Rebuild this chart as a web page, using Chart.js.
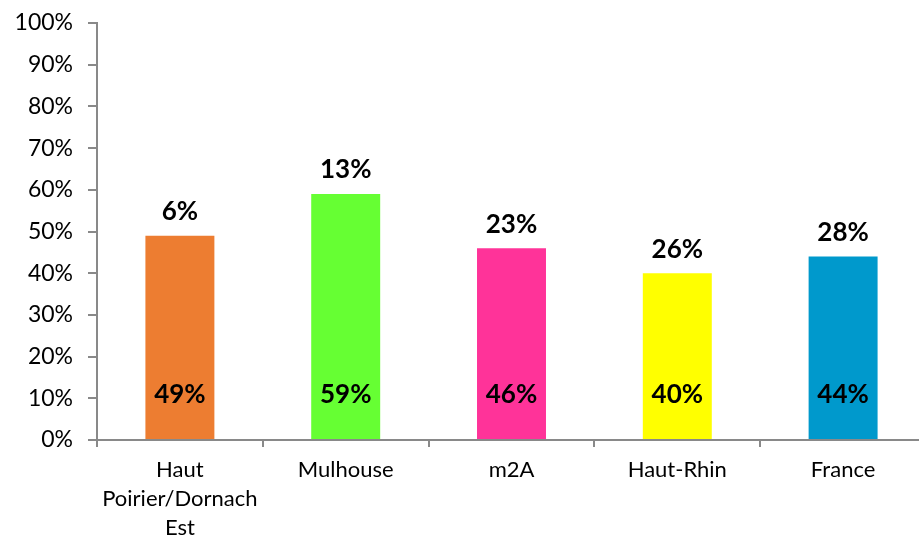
<!DOCTYPE html>
<html>
<head>
<meta charset="utf-8">
<script src="https://cdn.jsdelivr.net/npm/chart.js@4.4.1/dist/chart.umd.min.js"></script>
<style>
  html, body { margin: 0; padding: 0; background: #fff; overflow: hidden; }
  #wrap { width: 926px; height: 537px; }
</style>
</head>
<body>
<div id="wrap"><canvas id="chart"></canvas></div>
<script>
// catégories et valeurs (en %)
const categories = [['Haut', 'Poirier/Dornach', 'Est'], 'Mulhouse', 'm2A', 'Haut-Rhin', 'France'];
const barShares = [49, 59, 46, 40, 44];
const topShares = [6, 13, 23, 26, 28];
const barColors = ['#ED7D31', '#66FF33', '#FF3399', '#FFFF00', '#0099CC'];

const axisGrey = '#898989';

// étiquettes au-dessus et dans les barres
const barLabels = {
  id: 'barLabels',
  afterDatasetsDraw(chart) {
    const ctx = chart.ctx;
    const yScale = chart.scales.y;
    const meta = chart.getDatasetMeta(0);
    ctx.save();
    ctx.font = 'bold 26px Lato';
    ctx.fillStyle = '#000';
    ctx.textAlign = 'center';
    ctx.textBaseline = 'middle';
    meta.data.forEach((bar, i) => {
      ctx.fillText(topShares[i] + '%', bar.x, bar.y - 24);
      ctx.fillText(barShares[i] + '%', bar.x, yScale.getPixelForValue(0) - 45);
    });
    ctx.restore();
  }
};

new Chart(document.getElementById('chart'), {
  type: 'bar',
  data: {
    labels: categories,
    datasets: [{
      data: barShares,
      backgroundColor: barColors,
      borderWidth: 0,
      categoryPercentage: 1,
      barPercentage: 0.416
    }]
  },
  options: {
    responsive: true,
    maintainAspectRatio: false,
    animation: false,
    layout: { padding: { top: 23, left: 0, right: 0, bottom: 0 } },
    plugins: {
      legend: { display: false },
      tooltip: { enabled: false }
    },
    scales: {
      x: {
        afterFit(scale) { scale.height = 97; },
        border: { color: axisGrey, width: 2 },
        grid: { drawOnChartArea: false, drawTicks: true, tickLength: 7, color: axisGrey, lineWidth: 2 },
        ticks: {
          color: '#000',
          font: { family: 'Lato', size: 22, lineHeight: 1.3 },
          padding: 9,
          maxRotation: 0,
          autoSkip: false
        }
      },
      y: {
        min: 0,
        max: 100,
        afterFit(scale) { scale.width = 97; scale.paddingTop = 0; },
        border: { color: axisGrey, width: 2 },
        grid: { drawOnChartArea: false, drawTicks: true, tickLength: 9, color: axisGrey, lineWidth: 2 },
        ticks: {
          stepSize: 10,
          color: '#000',
          font: { family: 'Lato', size: 23, lineHeight: 1 },
          padding: 15,
          callback: v => v + '%'
        }
      }
    }
  },
  plugins: [barLabels]
});
</script>
</body>
</html>
